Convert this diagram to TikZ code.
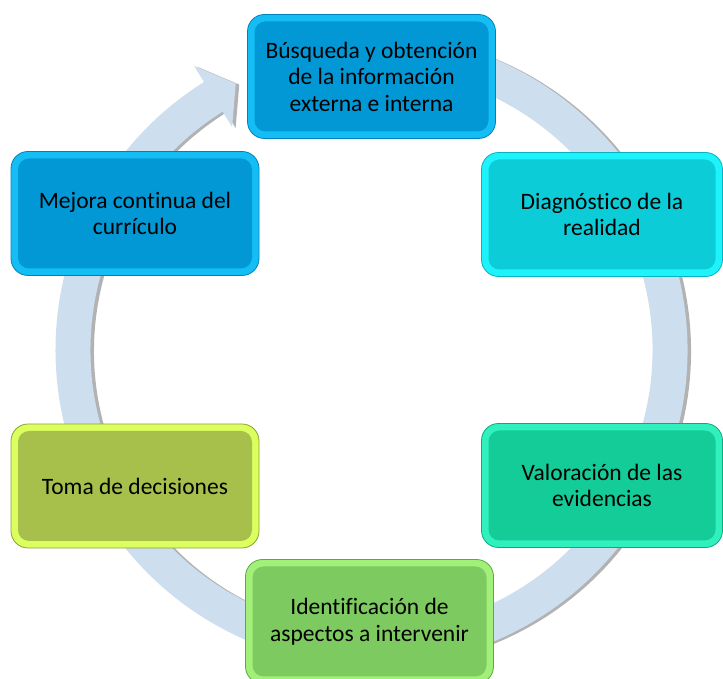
\documentclass[tikz,border=0pt]{standalone}
\usepackage{fontspec}
\setmainfont{Carlito}[Ligatures=NoCommon]
\usepackage{tikz}
\usetikzlibrary{calc}
\usetikzlibrary{shadows}
\definecolor{ringblue}{RGB}{205,222,239}
\definecolor{infofill}{RGB}{2,152,213}
\definecolor{infoedge}{RGB}{20,190,245}
\definecolor{infoline}{RGB}{0,128,185}
\definecolor{diagfill}{RGB}{12,204,216}
\definecolor{diagedge}{RGB}{30,242,250}
\definecolor{diagline}{RGB}{8,178,190}
\definecolor{valfill}{RGB}{20,204,152}
\definecolor{valedge}{RGB}{48,240,190}
\definecolor{valline}{RGB}{14,170,126}
\definecolor{identfill}{RGB}{125,202,96}
\definecolor{identedge}{RGB}{162,240,122}
\definecolor{identline}{RGB}{92,168,66}
\definecolor{tomafill}{RGB}{167,191,75}
\definecolor{tomaedge}{RGB}{220,255,96}
\definecolor{tomaline}{RGB}{138,160,48}
\tikzstyle{block} = [draw, rectangle, rounded corners=17pt, minimum height=124pt, minimum width=248pt, inner sep=0pt, align=center, line width=0.8pt, font=\fontsize{23.5}{26.5}\selectfont]
\tikzstyle{ring} = [fill=ringblue, drop shadow={shadow xshift=3.5pt, shadow yshift=-1pt, opacity=0.3, fill=black}]
\tikzset{face/.style={path picture={\fill[#1, rounded corners=11pt] ([shift={(7pt,7pt)}]path picture bounding box.south west) rectangle ([shift={(-7pt,-7pt)}]path picture bounding box.north east);}}}

\begin{document}
\begin{tikzpicture}[x=1pt, y=1pt]
\useasboundingbox (0,0) rectangle (723,679);
\coordinate (c) at (371.5,329);

% Ring arrow
\fill [ring] ($(c)+(100:316)$) arc [start angle=100, end angle=-238, radius=316]
  -- ($(c)+(-238:335)$) -- ($(c)+(-243:299)$) -- ($(c)+(-238:263)$)
  -- ($(c)+(-238:281)$) arc [start angle=-238, end angle=100, radius=281] -- cycle;

% Blocks
\node [block, fill=infoedge, draw=infoline, face=infofill] (info) at (371.5,602.5) {Búsqueda y obtención\\de la información\\externa e interna};
\node [block, minimum width=241pt, fill=diagedge, draw=diagline, face=diagfill] (diag) at (602,464.5) {Diagnóstico de la\\realidad};
\node [block, minimum width=241pt, fill=valedge, draw=valline, face=valfill] (valor) at (602,193.5) {Valoración de las\\evidencias};
\node [block, fill=identedge, draw=identline, face=identfill] (ident) at (369.5,57.5) {Identificación de\\aspectos a intervenir};
\node [block, fill=tomaedge, draw=tomaline, face=tomafill] (toma) at (135,193) {Toma de decisiones};
\node [block, fill=infoedge, draw=infoline, face=infofill] (mejora) at (135,465.5) {Mejora continua del\\currículo};
\end{tikzpicture}
\end{document}
